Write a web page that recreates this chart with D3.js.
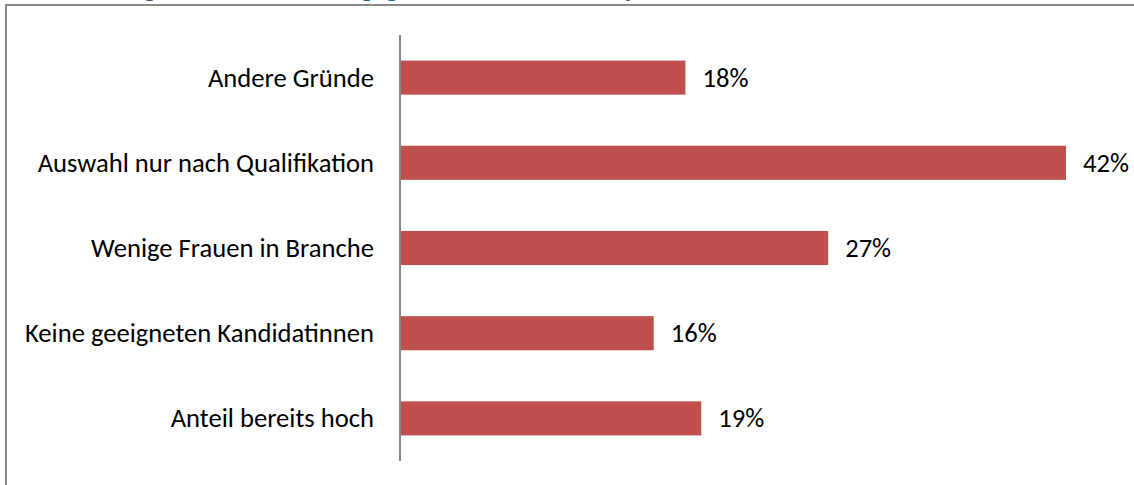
<!DOCTYPE html>
<html>
<head>
<meta charset="utf-8">
<script src="https://cdn.jsdelivr.net/npm/d3@7"></script>
<style>
  html, body { margin: 0; padding: 0; background: #fff; }
  svg { display: block; }
</style>
</head>
<body>
<svg id="chart" width="1134" height="485"></svg>
<script>
// Reasons given, top to bottom, and their shares in percent
const categories = [
  "Andere Gründe",
  "Auswahl nur nach Qualifikation",
  "Wenige Frauen in Branche",
  "Keine geeigneten Kandidatinnen",
  "Anteil bereits hoch"
];
const values = [18, 42, 27, 16, 19];
const valueLabels = ["18%", "42%", "27%", "16%", "19%"];
const titleText = "Einstellung der Unternehmen gegenüber einer Frauenquote";

const W = 1134, H = 485;
const FONT = "Carlito, Calibri, Lato, 'Open Sans', sans-serif";
const svg = d3.select("#chart");

// Frame of the chart area (left and top edges visible)
svg.append("path")
  .attr("d", `M6,${H} L6,5 L${W},5`)
  .attr("fill", "none")
  .attr("stroke", "#898989")
  .attr("stroke-width", 2);

// Title, sitting above the visible area so only its descenders show
svg.append("text")
  .attr("x", 38)
  .attr("y", -3)
  .attr("font-family", FONT)
  .attr("font-weight", "bold")
  .attr("font-size", 26)
  .attr("fill", "#2a5796")
  .text(titleText);

const x0 = 400;
const x = d3.scaleLinear().domain([0, 42]).range([x0, 1066]);
const y = d3.scaleBand()
  .domain(categories)
  .range([35, 461])
  .paddingInner(0.6)
  .paddingOuter(0.3);

// Fit label font size so the longest label spans its measured width
const probe = svg.append("text")
  .attr("font-family", FONT)
  .attr("font-size", 20)
  .text("Keine geeigneten Kandidatinnen");
const w20 = probe.node().getComputedTextLength();
probe.remove();
const fs = 20 * 349 / w20;

// Bars
svg.append("g").selectAll("rect")
  .data(categories)
  .join("rect")
  .attr("x", x(0))
  .attr("y", d => y(d))
  .attr("width", (d, i) => x(values[i]) - x(0))
  .attr("height", y.bandwidth())
  .attr("fill", "#c0504d");

// Category axis on the left
const axis = d3.axisLeft(y).tickSize(0).tickPadding(26);
const ga = svg.append("g")
  .attr("transform", `translate(${x0},0)`)
  .call(axis);
ga.select(".domain")
  .attr("d", `M0,${y.range()[0]}V${y.range()[1]}`)
  .attr("stroke", "#868686")
  .attr("stroke-width", 2);
ga.selectAll(".tick text")
  .attr("font-family", FONT)
  .attr("font-size", fs)
  .attr("fill", "#000")
  .attr("dy", null)
  .attr("y", 0)
  .attr("dominant-baseline", "central");

// Value labels at the bar ends
svg.append("g").selectAll("text")
  .data(categories)
  .join("text")
  .attr("x", (d, i) => x(values[i]) + 17)
  .attr("y", d => y(d) + y.bandwidth() / 2)
  .attr("dominant-baseline", "central")
  .attr("font-family", FONT)
  .attr("font-size", fs)
  .attr("fill", "#000")
  .text((d, i) => valueLabels[i]);
</script>
</body>
</html>
